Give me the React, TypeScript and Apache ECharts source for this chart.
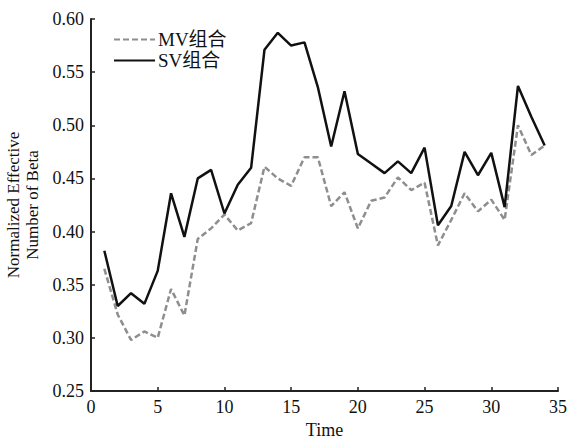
import React, { useEffect, useRef } from "react";
import * as echarts from "echarts";

const time = [1,2,3,4,5,6,7,8,9,10,11,12,13,14,15,16,17,18,19,20,21,22,23,24,25,26,27,28,29,30,31,32,33,34];
const mvValues = [0.365,0.322,0.298,0.306,0.300,0.346,0.321,0.393,0.403,0.416,0.401,0.408,0.461,0.450,0.443,0.470,0.470,0.424,0.437,0.403,0.429,0.432,0.451,0.439,0.446,0.387,0.411,0.436,0.419,0.430,0.411,0.500,0.472,0.481];
const svValues = [0.382,0.330,0.342,0.332,0.363,0.436,0.395,0.450,0.458,0.417,0.444,0.460,0.571,0.587,0.575,0.578,0.536,0.480,0.532,0.473,0.464,0.455,0.466,0.455,0.479,0.406,0.424,0.475,0.453,0.474,0.423,0.537,0.508,0.481];
const mvName = "MV组合";
const svName = "SV组合";

const FONT = "'Liberation Serif', 'DejaVu Serif', 'Noto Sans CJK SC', serif";

export default function App() {
  const ref = useRef<HTMLDivElement>(null);
  useEffect(() => {
    if (!ref.current) return;
    const chart = echarts.init(ref.current, null, { renderer: "svg" });
    const toPairs = (arr: number[]) => arr.map((v, i) => [time[i], v]);
    chart.setOption({
      animation: false,
      backgroundColor: "#ffffff",
      textStyle: { fontFamily: FONT },
      grid: { left: 91, right: 11, top: 19, bottom: 49, outerBoundsMode: "none", containLabel: false },
      legend: {
        orient: "vertical",
        left: 113,
        top: 30,
        padding: 0,
        itemWidth: 41,
        itemHeight: 12,
        itemGap: 2,
        itemStyle: { opacity: 0 },
        textStyle: { fontFamily: FONT, fontSize: 19, color: "#111", padding: [0, 0, 0, -2] },
        data: [mvName, svName],
      },
      xAxis: {
        type: "value",
        min: 0,
        max: 35,
        interval: 5,
        name: "Time",
        nameLocation: "middle",
        nameGap: 28,
        nameTextStyle: { fontFamily: FONT, fontSize: 18, color: "#111", lineHeight: 18 },
        splitLine: { show: false },
        axisLine: { lineStyle: { color: "#222", width: 2 } },
        axisTick: { inside: true, length: 4, lineStyle: { color: "#222", width: 1.5 } },
        axisLabel: { fontFamily: FONT, fontSize: 18, color: "#111", margin: 7 },
      },
      yAxis: {
        type: "value",
        min: 0.25,
        max: 0.6,
        interval: 0.05,
        name: "Normalized Effective\nNumber of Beta",
        nameLocation: "middle",
        nameGap: 48,
        nameRotate: 90,
        nameTextStyle: { fontFamily: FONT, fontSize: 17, color: "#111", lineHeight: 19 },
        splitLine: { show: false },
        axisLine: { show: true, lineStyle: { color: "#222", width: 2 } },
        axisTick: { show: true, inside: true, length: 4, lineStyle: { color: "#222", width: 1.5 } },
        axisLabel: {
          fontFamily: FONT,
          fontSize: 18,
          color: "#111",
          margin: 7,
          formatter: (v: number) => v.toFixed(2),
        },
      },
      series: [
        {
          name: mvName,
          type: "line",
          data: toPairs(mvValues),
          symbol: "none",
          lineStyle: { color: "#8e8e8e", width: 2.5, type: [6, 3] },
          itemStyle: { color: "#8e8e8e" },
        },
        {
          name: svName,
          type: "line",
          data: toPairs(svValues),
          symbol: "none",
          lineStyle: { color: "#111", width: 2.5 },
          itemStyle: { color: "#111" },
        },
      ],
    });
    return () => chart.dispose();
  }, []);
  return <div ref={ref} style={{ width: 569, height: 440, position: "absolute", left: 0, top: 0 }} />;
}
